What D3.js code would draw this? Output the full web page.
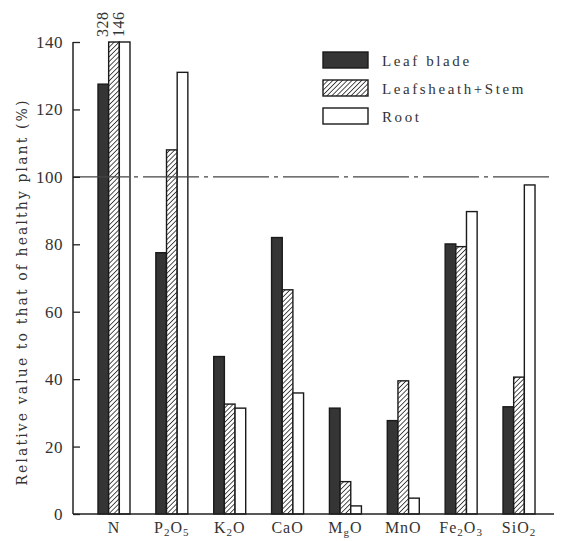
<!DOCTYPE html>
<html>
<head>
<meta charset="utf-8">
<script src="https://cdn.jsdelivr.net/npm/d3@7"></script>
<style>
  body { margin: 0; background: #fff; }
  text { fill: #333; }
</style>
</head>
<body>
<svg id="chart"></svg>
<script>
var svgWidth = 565,
  svgHeight = 541;

// categories and series
var oxides = ["N", "P2O5", "K2O", "CaO", "MgO", "MnO", "Fe2O3", "SiO2"];
var oxideLabels = [
  [["N", 0]],
  [["P", 0], ["2", 1], ["O", 0], ["5", 1]],
  [["K", 0], ["2", 1], ["O", 0]],
  [["CaO", 0]],
  [["M", 0], ["g", 1], ["O", 0]],
  [["MnO", 0]],
  [["Fe", 0], ["2", 1], ["O", 0], ["3", 1]],
  [["Si", 0], ["O", 0], ["2", 1]]
];
var seriesNames = ["Leaf blade", "Leafsheath+Stem", "Root"];
var leafBlade = [127.5, 77.5, 46.7, 82, 31.4, 27.7, 80.1, 31.8];
var leafsheathStem = [328, 108, 32.6, 66.5, 9.6, 39.5, 79.3, 40.6];
var root = [146, 131, 31.4, 35.9, 2.4, 4.7, 89.7, 97.6];
var yTicks = [0, 20, 40, 60, 80, 100, 120, 140];
var yMax = 140;
var healthyLevel = 100;

var serif = "'Liberation Serif', 'DejaVu Serif', serif";

var svg = d3.select("#chart").attr("width", svgWidth).attr("height", svgHeight);

var defs = svg.append("defs");
var hatch = defs.append("pattern")
  .attr("id", "hatch")
  .attr("patternUnits", "userSpaceOnUse")
  .attr("width", 3.4)
  .attr("height", 3.4)
  .attr("patternTransform", "rotate(45)");
hatch.append("rect").attr("width", 3.4).attr("height", 3.4).attr("fill", "#fff");
hatch.append("line")
  .attr("x1", 0).attr("y1", 0).attr("x2", 0).attr("y2", 3.4)
  .attr("stroke", "#333").attr("stroke-width", 1.7);

var fills = ["#353535", "url(#hatch)", "#fff"];

var axisLeftX = 73,
  axisRightX = 554,
  baseY = 514,
  topY = 42;

var x = d3.scaleBand()
  .domain(oxides)
  .range([73, 560])
  .paddingInner(0.447)
  .paddingOuter(0.432);

var x1 = d3.scaleBand()
  .domain(d3.range(3))
  .range([0, x.bandwidth()]);

var y = d3.scaleLinear().domain([0, yMax]).range([baseY, topY]);

var table = oxides.map(function (o, i) {
  return { oxide: o, values: [leafBlade[i], leafsheathStem[i], root[i]] };
});

// bars
var groups = svg.append("g")
  .selectAll("g")
  .data(table)
  .enter()
  .append("g")
  .attr("transform", function (d) { return "translate(" + x(d.oxide) + ",0)"; });

groups.selectAll("rect")
  .data(function (d) { return d.values.map(function (v, k) { return { k: k, v: v }; }); })
  .enter()
  .append("rect")
  .attr("x", function (d) { return x1(d.k); })
  .attr("y", function (d) { return y(Math.min(d.v, yMax)); })
  .attr("width", x1.bandwidth())
  .attr("height", function (d) { return baseY - y(Math.min(d.v, yMax)); })
  .attr("fill", function (d) { return fills[d.k]; })
  .attr("stroke", "#1a1a1a")
  .attr("stroke-width", 1.4);

// values beyond the axis top, written above the bars (rotated, spread apart)
table.forEach(function (d) {
  var over = 0;
  d.values.forEach(function (v, k) {
    if (v > yMax) {
      var tx = x(d.oxide) + x1(k) + x1.bandwidth() / 2 - 5.5 + over * 4.5;
      svg.append("text")
        .attr("transform", "translate(" + tx + "," + 37 + ") rotate(-90)")
        .style("font-family", serif)
        .style("font-size", "16px")
        .style("letter-spacing", "0.5px")
        .attr("text-anchor", "start")
        .text(v);
      over++;
    }
  });
});

// reference line for healthy plant
svg.append("line")
  .attr("x1", axisLeftX).attr("x2", axisRightX)
  .attr("y1", y(healthyLevel)).attr("y2", y(healthyLevel))
  .attr("stroke", "#444")
  .attr("stroke-width", 1.1)
  .attr("stroke-dasharray", "56,5,4,5");

// y axis
var gy = svg.append("g")
  .attr("transform", "translate(" + axisLeftX + ",0)")
  .call(d3.axisLeft(y).tickValues(yTicks).tickSize(-7).tickPadding(10))
  .call(function (g) { g.select(".domain").remove(); });
gy.selectAll(".tick line").attr("stroke", "#222").attr("stroke-width", 1.3);
gy.selectAll(".tick text")
  .style("font-size", "17px")
  .style("font-family", serif)
  .style("letter-spacing", "0.5px")
  .style("fill", "#333");

svg.append("line")
  .attr("x1", axisLeftX).attr("x2", axisLeftX)
  .attr("y1", topY).attr("y2", baseY)
  .attr("stroke", "#222").attr("stroke-width", 1.5);

// x axis
svg.append("line")
  .attr("x1", axisLeftX).attr("x2", axisRightX)
  .attr("y1", baseY).attr("y2", baseY)
  .attr("stroke", "#222").attr("stroke-width", 1.5);

var xLab = svg.append("g")
  .selectAll("text")
  .data(oxides)
  .enter()
  .append("text")
  .attr("x", function (d) { return x(d) + x.bandwidth() / 2; })
  .attr("y", 533)
  .attr("text-anchor", "middle")
  .style("font-family", serif)
  .style("font-size", "16px")
  .style("letter-spacing", "1px");

xLab.each(function (d, i) {
  var t = d3.select(this);
  oxideLabels[i].forEach(function (p, j) {
    var prev = j > 0 ? oxideLabels[i][j - 1] : null;
    var dy = 0;
    if (p[1] && !(prev && prev[1])) dy = 3;
    if (!p[1] && prev && prev[1]) dy = -3;
    var s = t.append("tspan").attr("dy", dy).text(p[0]);
    if (p[1]) s.style("font-size", "11px");
  });
});

// y label
svg.append("text")
  .attr("transform", "translate(27," + 292 + ") rotate(-90)")
  .attr("text-anchor", "middle")
  .style("font-family", "'DejaVu Serif', serif")
  .style("font-size", "14px")
  .style("letter-spacing", "2.1px")
  .text("Relative value to that of healthy plant (%)");

// legend
var legend = svg.append("g").attr("transform", "translate(323,52)");
seriesNames.forEach(function (name, k) {
  var row = legend.append("g").attr("transform", "translate(0," + k * 28 + ")");
  row.append("rect")
    .attr("width", 45).attr("height", 16)
    .attr("fill", fills[k])
    .attr("stroke", "#1a1a1a").attr("stroke-width", 1.4);
  row.append("text")
    .attr("x", 59).attr("y", 14)
    .style("font-family", serif)
    .style("font-size", "15px")
    .style("letter-spacing", "2.6px")
    .text(name);
});
</script>
</body>
</html>
